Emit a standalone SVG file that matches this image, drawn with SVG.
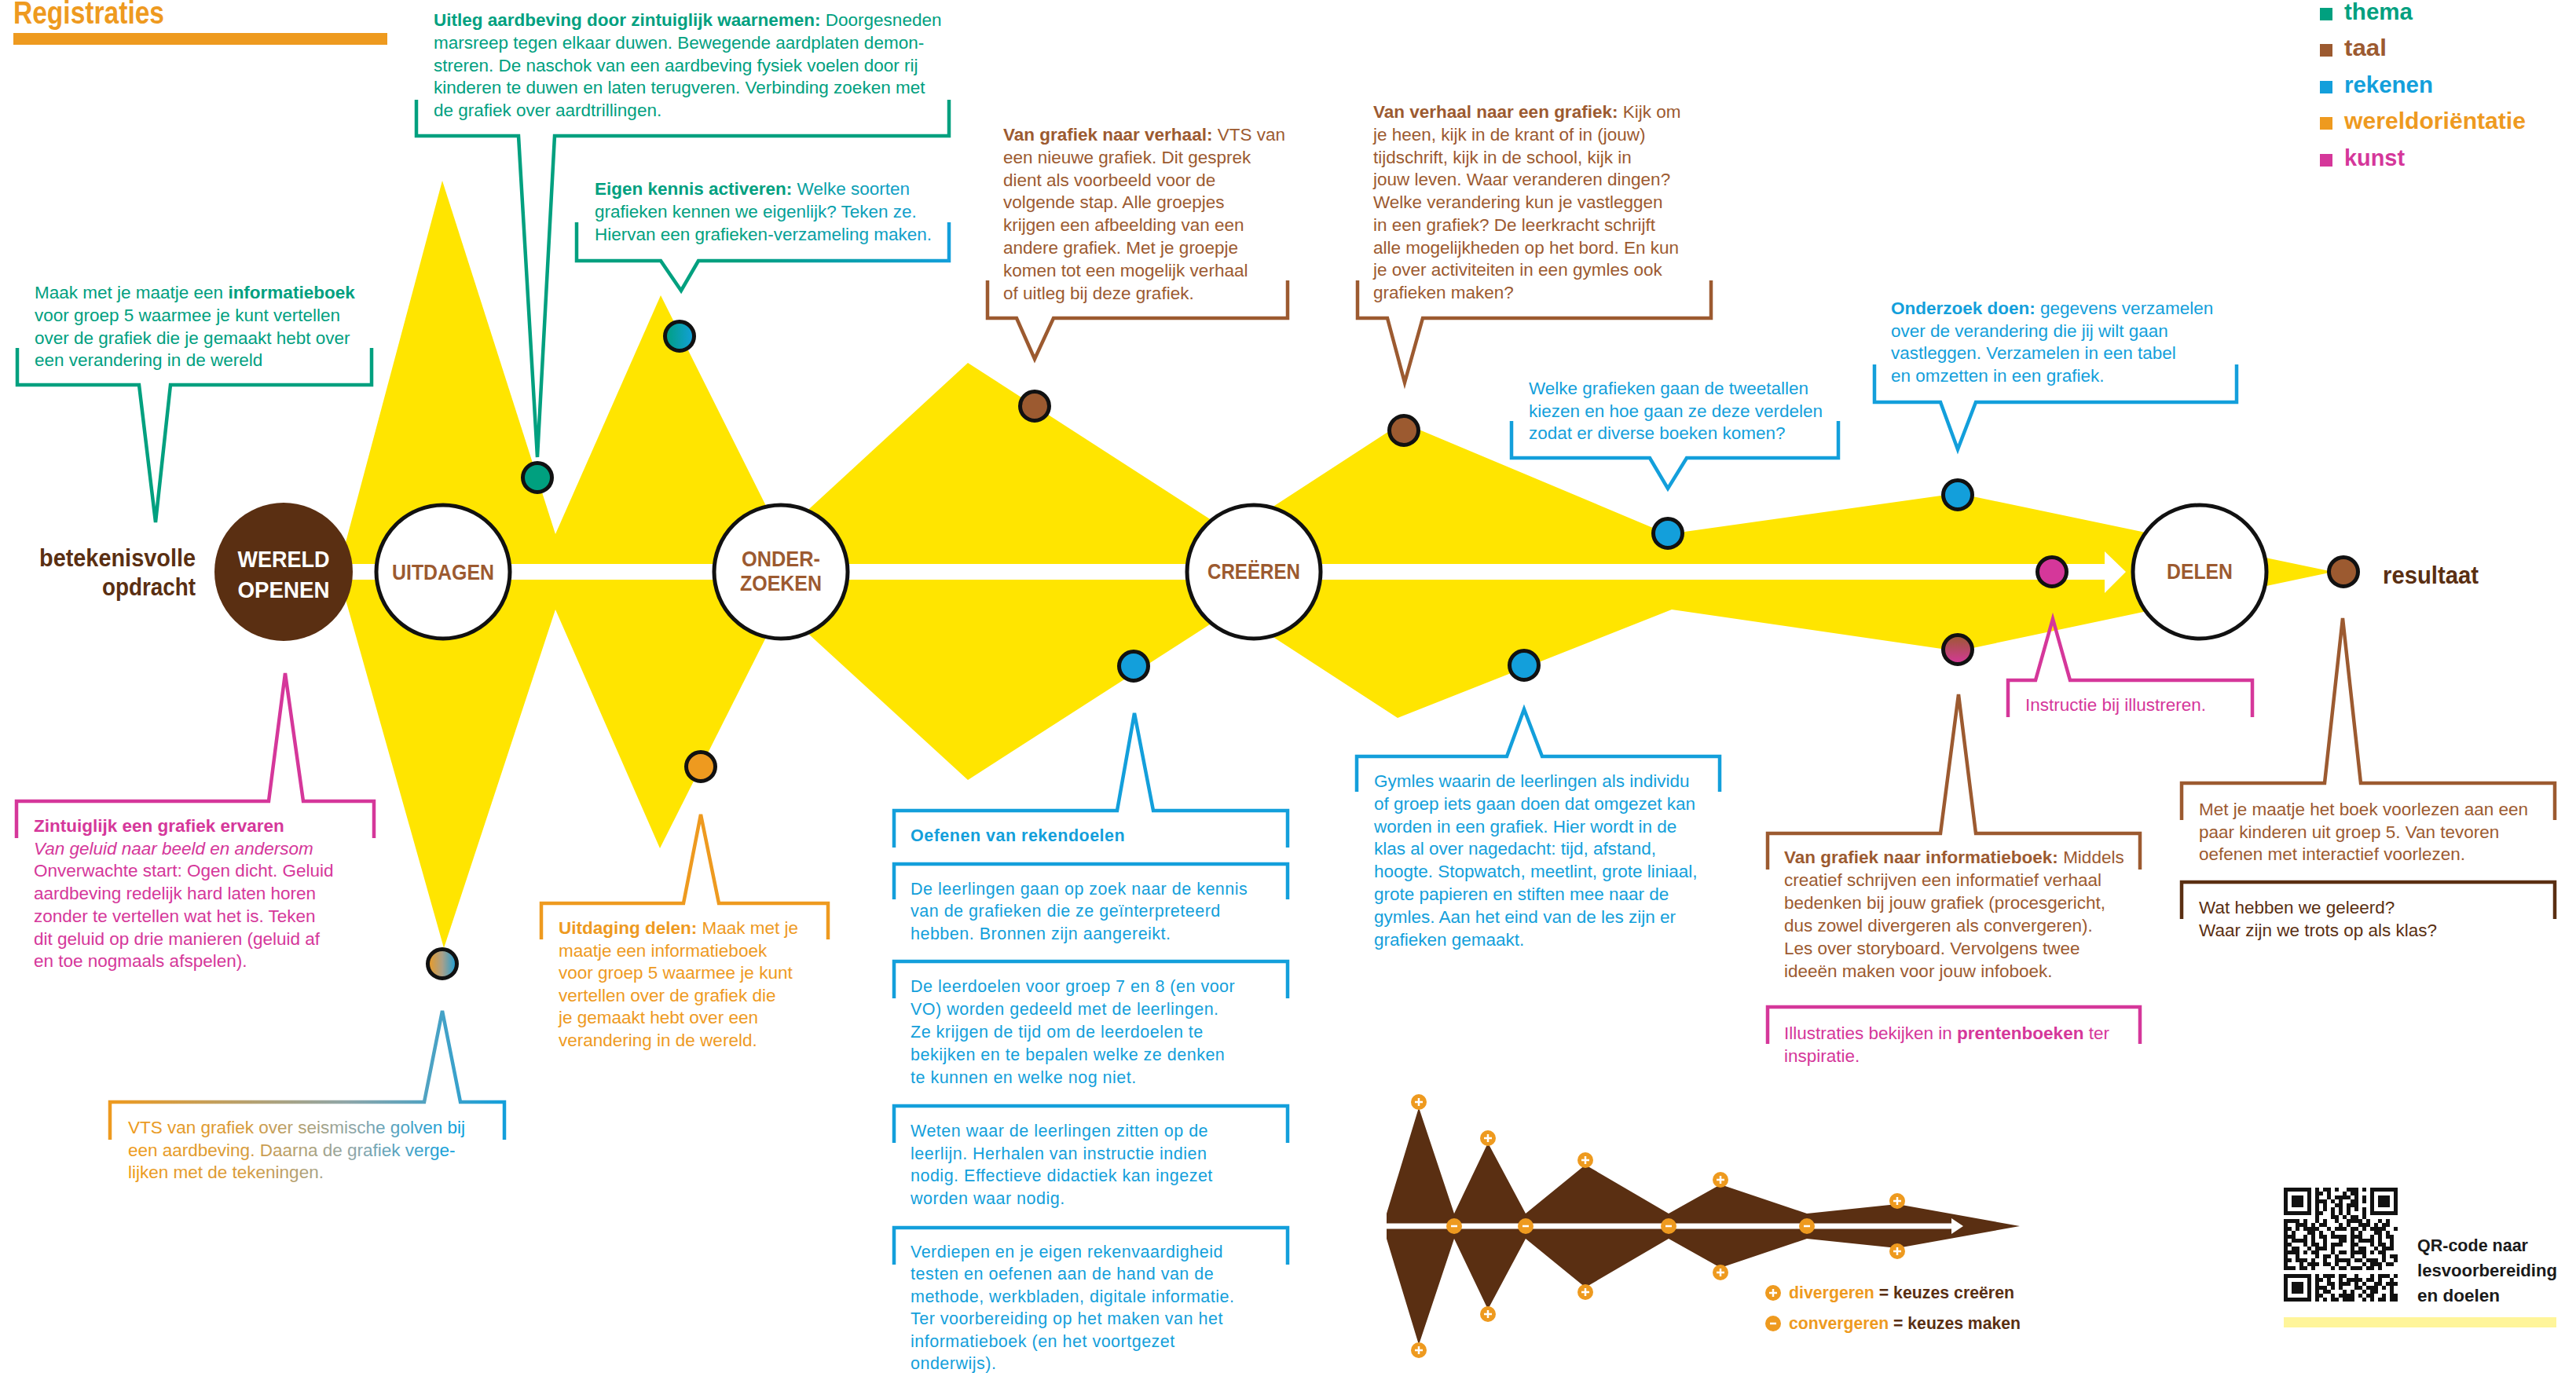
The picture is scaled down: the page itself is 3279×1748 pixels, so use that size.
<svg xmlns="http://www.w3.org/2000/svg" width="3279" height="1748" viewBox="0 0 3279 1748">
<defs>
<style>
text { font-family: 'Liberation Sans', Arial, sans-serif; }
.t { font-size: 22.5px; }
.r { font-size: 21.5px; letter-spacing: 0.5px; }
.b { font-weight: bold; }
.i { font-style: italic; }
.teal { fill: #00A07F; }
.brown { fill: #9C5A30; }
.blue { fill: #139FDB; }
.orange { fill: #EE9A1F; }
.mag { fill: #D5379A; }
.dark { fill: #5A2F12; }
.br { fill: none; stroke-width: 4.5; }
.sTeal { stroke: #00A07F; }
.sBrown { stroke: #9C5A30; }
.sBlue { stroke: #139FDB; }
.sOrange { stroke: #EE9A1F; }
.sMag { stroke: #D5379A; }
.sDark { stroke: #5A2F12; }
.yel { fill: #FFE500; }
.node { fill: #fff; stroke: #111; stroke-width: 5; }
.lbl { font-weight: bold; fill: #9C5A30; text-anchor: middle; font-size: 28px; }
.dot { stroke: #111; stroke-width: 5; }
.pm { fill: #EE9A1F; }
.pmx { stroke: #fff; stroke-width: 2.5; fill: none; }
.qr path { fill: none; stroke: #111; stroke-width: 5; }
</style>
<linearGradient id="gTealBlueTxt" gradientUnits="userSpaceOnUse" x1="757" y1="0" x2="1200" y2="0">
<stop offset="0" stop-color="#00A07F"/><stop offset="0.4" stop-color="#00A07F"/><stop offset="1" stop-color="#139FDB"/>
</linearGradient>
<linearGradient id="gTealBlueBr" gradientUnits="userSpaceOnUse" x1="734" y1="0" x2="1208" y2="0">
<stop offset="0" stop-color="#00A07F"/><stop offset="0.45" stop-color="#00A07F"/><stop offset="1" stop-color="#139FDB"/>
</linearGradient>
<linearGradient id="gOrBlueTxt" gradientUnits="userSpaceOnUse" x1="163" y1="0" x2="575" y2="0">
<stop offset="0" stop-color="#EE9A1F"/><stop offset="0.35" stop-color="#D89A3A"/><stop offset="0.7" stop-color="#8FA6A8"/><stop offset="1" stop-color="#139FDB"/>
</linearGradient>
<linearGradient id="gOrBlueBr" gradientUnits="userSpaceOnUse" x1="140" y1="0" x2="642" y2="0">
<stop offset="0" stop-color="#EE9A1F"/><stop offset="0.6" stop-color="#8FA6A8"/><stop offset="1" stop-color="#139FDB"/>
</linearGradient>
<linearGradient id="gDotTB" x1="0" y1="0" x2="1" y2="0">
<stop offset="0" stop-color="#00A07F"/><stop offset="1" stop-color="#139FDB"/>
</linearGradient>
<linearGradient id="gDotOB" x1="0" y1="0" x2="1" y2="0">
<stop offset="0" stop-color="#EE9A1F"/><stop offset="0.5" stop-color="#A9A08A"/><stop offset="1" stop-color="#139FDB"/>
</linearGradient>
<linearGradient id="gDotBM" x1="0" y1="0" x2="0" y2="1">
<stop offset="0" stop-color="#9C5A30"/><stop offset="1" stop-color="#D5379A"/>
</linearGradient>
</defs>

<rect width="3279" height="1748" fill="#fff"/>

<!-- heading -->
<g id="heading">
<text x="17" y="30" class="b orange" font-size="40" textLength="192" lengthAdjust="spacingAndGlyphs">Registraties</text>
<rect x="17" y="42" width="476" height="15" fill="#EE9A1F"/>
</g>

<!-- subject legend -->
<g id="legend" class="b" font-size="30">
<rect x="2953" y="10" width="16" height="16" fill="#00A07F"/>
<text x="2984" y="25" class="teal" textLength="87" lengthAdjust="spacingAndGlyphs">thema</text>
<rect x="2953" y="56" width="16" height="16" fill="#9C5A30"/>
<text x="2984" y="71" class="brown" textLength="54" lengthAdjust="spacingAndGlyphs">taal</text>
<rect x="2953" y="103" width="16" height="16" fill="#139FDB"/>
<text x="2984" y="118" class="blue" textLength="113" lengthAdjust="spacingAndGlyphs">rekenen</text>
<rect x="2953" y="149" width="16" height="16" fill="#EE9A1F"/>
<text x="2984" y="164" class="orange" textLength="231" lengthAdjust="spacingAndGlyphs">wereldoriëntatie</text>
<rect x="2953" y="196" width="16" height="16" fill="#D5379A"/>
<text x="2984" y="211" class="mag" textLength="77" lengthAdjust="spacingAndGlyphs">kunst</text>
</g>

<!-- yellow divergence / convergence flow -->
<g id="flow" class="yel">
<polygon points="430,728 563,230 707,680 707,776 565,1207"/>
<polygon points="707,680 841,376 1017,728 840,1080 707,776"/>
<polygon points="943,728 1232,462 1644,728 1232,993"/>
<polygon points="1493,728 1785,538 2123,680 2492,628 2970,728 2492,829 2128,776 1779,914"/>
</g>

<!-- main axis -->
<g id="connectors">
<rect x="440" y="718" width="2241" height="20" fill="#fff"/>
<polygon points="2679,702 2706,728 2679,755" fill="#fff"/>
</g>

<!-- phase nodes -->
<g id="node-wereld-openen">
<circle cx="361" cy="728" r="88" fill="#5A2F12"/>
<text x="361" y="722" class="b" fill="#fff" font-size="30" text-anchor="middle" textLength="117" lengthAdjust="spacingAndGlyphs">WERELD</text>
<text x="361" y="761" class="b" fill="#fff" font-size="30" text-anchor="middle" textLength="117" lengthAdjust="spacingAndGlyphs">OPENEN</text>
</g>
<g id="node-uitdagen">
<circle cx="564" cy="728" r="85" class="node"/>
<text x="564" y="738" class="lbl" textLength="130" lengthAdjust="spacingAndGlyphs">UITDAGEN</text>
</g>
<g id="node-onderzoeken">
<circle cx="994" cy="728" r="85" class="node"/>
<text x="994" y="721" class="lbl" textLength="100" lengthAdjust="spacingAndGlyphs">ONDER-</text>
<text x="994" y="752" class="lbl" textLength="104" lengthAdjust="spacingAndGlyphs">ZOEKEN</text>
</g>
<g id="node-creeren">
<circle cx="1596" cy="728" r="85" class="node"/>
<text x="1596" y="737" class="lbl" textLength="118" lengthAdjust="spacingAndGlyphs">CREËREN</text>
</g>
<g id="node-delen">
<circle cx="2800" cy="728" r="85" class="node"/>
<text x="2800" y="737" class="lbl" textLength="84" lengthAdjust="spacingAndGlyphs">DELEN</text>
</g>

<g id="start-label" class="b dark" font-size="31" text-anchor="end">
<text x="249" y="721" textLength="199" lengthAdjust="spacingAndGlyphs">betekenisvolle</text>
<text x="249" y="758" textLength="119" lengthAdjust="spacingAndGlyphs">opdracht</text>
</g>
<g id="end-label">
<circle cx="2983" cy="728" r="18.5" fill="#9C5A30" class="dot"/>
<text x="3033" y="743" class="b dark" font-size="31" textLength="122" lengthAdjust="spacingAndGlyphs">resultaat</text>
</g>

<!-- activity markers -->
<g id="markers">
<circle cx="684" cy="608" r="18.5" fill="#00A07F" class="dot"/>
<circle cx="865" cy="428" r="18.5" fill="url(#gDotTB)" class="dot"/>
<circle cx="892" cy="976" r="18.5" fill="#EE9A1F" class="dot"/>
<circle cx="563" cy="1227" r="18.5" fill="url(#gDotOB)" class="dot"/>
<circle cx="1317" cy="517" r="18.5" fill="#9C5A30" class="dot"/>
<circle cx="1443" cy="848" r="18.5" fill="#139FDB" class="dot"/>
<circle cx="1787" cy="548" r="18.5" fill="#9C5A30" class="dot"/>
<circle cx="1940" cy="847" r="18.5" fill="#139FDB" class="dot"/>
<circle cx="2123" cy="679" r="18.5" fill="#139FDB" class="dot"/>
<circle cx="2492" cy="630" r="18.5" fill="#139FDB" class="dot"/>
<circle cx="2492" cy="827" r="18.5" fill="url(#gDotBM)" class="dot"/>
<circle cx="2612" cy="728" r="18.5" fill="#D5379A" class="dot"/>
</g>

<!-- callouts -->
<g id="callout-uitleg-aardbeving">
<path class="br sTeal" d="M530 127V173H660L684 582L706 173H1208V127"/>
<text class="t teal" x="552" y="33"><tspan class="b">Uitleg aardbeving door zintuiglijk waarnemen:</tspan> Doorgesneden<tspan x="552" dy="28.8">marsreep tegen elkaar duwen. Bewegende aardplaten demon-</tspan><tspan x="552" dy="28.8">streren. De naschok van een aardbeving fysiek voelen door rij</tspan><tspan x="552" dy="28.8">kinderen te duwen en laten terugveren. Verbinding zoeken met</tspan><tspan x="552" dy="28.8">de grafiek over aardtrillingen.</tspan></text>
</g>

<g id="callout-eigen-kennis">
<path class="br" stroke="url(#gTealBlueBr)" d="M734 283V332H841L867 370L889 332H1208V283"/>
<text class="t" fill="url(#gTealBlueTxt)" x="757" y="248"><tspan class="b" fill="#00A07F">Eigen kennis activeren:</tspan> Welke soorten<tspan x="757" dy="28.8">grafieken kennen we eigenlijk? Teken ze.</tspan><tspan x="757" dy="28.8">Hiervan een grafieken-verzameling maken.</tspan></text>
</g>

<g id="callout-informatieboek">
<path class="br sTeal" d="M22 443V490H177L198 665L217 490H473V443"/>
<text class="t teal" x="44" y="380">Maak met je maatje een <tspan class="b">informatieboek</tspan><tspan x="44" dy="28.8">voor groep 5 waarmee je kunt vertellen</tspan><tspan x="44" dy="28.8">over de grafiek die je gemaakt hebt over</tspan><tspan x="44" dy="28.8">een verandering in de wereld</tspan></text>
</g>

<g id="callout-grafiek-naar-verhaal">
<path class="br sBrown" d="M1257 357V405H1294L1317 457L1341 405H1639V357"/>
<text class="t brown" x="1277" y="179"><tspan class="b">Van grafiek naar verhaal:</tspan> VTS van<tspan x="1277" dy="28.8">een nieuwe grafiek. Dit gesprek</tspan><tspan x="1277" dy="28.8">dient als voorbeeld voor de</tspan><tspan x="1277" dy="28.8">volgende stap. Alle groepjes</tspan><tspan x="1277" dy="28.8">krijgen een afbeelding van een</tspan><tspan x="1277" dy="28.8">andere grafiek. Met je groepje</tspan><tspan x="1277" dy="28.8">komen tot een mogelijk verhaal</tspan><tspan x="1277" dy="28.8">of uitleg bij deze grafiek.</tspan></text>
</g>

<g id="callout-verhaal-naar-grafiek">
<path class="br sBrown" d="M1728 357V405H1766L1788 487L1811 405H2178V357"/>
<text class="t brown" x="1748" y="150"><tspan class="b">Van verhaal naar een grafiek:</tspan> Kijk om<tspan x="1748" dy="28.75">je heen, kijk in de krant of in (jouw)</tspan><tspan x="1748" dy="28.75">tijdschrift, kijk in de school, kijk in</tspan><tspan x="1748" dy="28.75">jouw leven. Waar veranderen dingen?</tspan><tspan x="1748" dy="28.75">Welke verandering kun je vastleggen</tspan><tspan x="1748" dy="28.75">in een grafiek? De leerkracht schrijft</tspan><tspan x="1748" dy="28.75">alle mogelijkheden op het bord. En kun</tspan><tspan x="1748" dy="28.75">je over activiteiten in een gymles ook</tspan><tspan x="1748" dy="28.75">grafieken maken?</tspan></text>
</g>

<g id="callout-tweetallen">
<path class="br sBlue" d="M1924 536V583H2100L2123 622L2147 583H2340V536"/>
<text class="t blue" x="1946" y="502">Welke grafieken gaan de tweetallen<tspan x="1946" dy="28.6">kiezen en hoe gaan ze deze verdelen</tspan><tspan x="1946" dy="28.6">zodat er diverse boeken komen?</tspan></text>
</g>

<g id="callout-onderzoek-doen">
<path class="br sBlue" d="M2386 464V512H2470L2492 572L2515 512H2847V464"/>
<text class="t blue" x="2407" y="400"><tspan class="b">Onderzoek doen:</tspan> gegevens verzamelen<tspan x="2407" dy="28.7">over de verandering die jij wilt gaan</tspan><tspan x="2407" dy="28.7">vastleggen. Verzamelen in een tabel</tspan><tspan x="2407" dy="28.7">en omzetten in een grafiek.</tspan></text>
</g>

<g id="callout-zintuiglijk">
<path class="br sMag" d="M21 1067V1020H342L363 857L386 1020H476V1067"/>
<text class="t mag" x="43" y="1059"><tspan class="b">Zintuiglijk een grafiek ervaren</tspan><tspan x="43" dy="28.7" class="i">Van geluid naar beeld en andersom</tspan><tspan x="43" dy="28.7">Onverwachte start: Ogen dicht. Geluid</tspan><tspan x="43" dy="28.7">aardbeving redelijk hard laten horen</tspan><tspan x="43" dy="28.7">zonder te vertellen wat het is. Teken</tspan><tspan x="43" dy="28.7">dit geluid op drie manieren (geluid af</tspan><tspan x="43" dy="28.7">en toe nogmaals afspelen).</tspan></text>
</g>

<g id="callout-uitdaging-delen">
<path class="br sOrange" d="M689 1196V1150H870L892 1037L915 1150H1054V1196"/>
<text class="t orange" x="711" y="1189"><tspan class="b">Uitdaging delen:</tspan> Maak met je<tspan x="711" dy="28.6">maatje een informatieboek</tspan><tspan x="711" dy="28.6">voor groep 5 waarmee je kunt</tspan><tspan x="711" dy="28.6">vertellen over de grafiek die</tspan><tspan x="711" dy="28.6">je gemaakt hebt over een</tspan><tspan x="711" dy="28.6">verandering in de wereld.</tspan></text>
</g>

<g id="callout-vts-seismisch">
<path class="br" stroke="url(#gOrBlueBr)" d="M140 1451V1403H540L563 1287L586 1403H642V1451"/>
<text class="t" fill="url(#gOrBlueTxt)" x="163" y="1443">VTS van grafiek over seismische golven bij<tspan x="163" dy="28.6">een aardbeving. Daarna de grafiek verge-</tspan><tspan x="163" dy="28.6">lijken met de tekeningen.</tspan></text>
</g>

<g id="callout-rekendoelen">
<path class="br sBlue" d="M1138 1079V1032H1422L1444 908L1468 1032H1639V1079"/>
<text class="r b blue" x="1159" y="1071">Oefenen van rekendoelen</text>
<path class="br sBlue" d="M1138 1145V1100H1639V1145"/>
<text class="r blue" x="1159" y="1139">De leerlingen gaan op zoek naar de kennis<tspan x="1159" dy="28.3">van de grafieken die ze geïnterpreteerd</tspan><tspan x="1159" dy="28.3">hebben. Bronnen zijn aangereikt.</tspan></text>
<path class="br sBlue" d="M1138 1271V1224H1639V1271"/>
<text class="r blue" x="1159" y="1263">De leerdoelen voor groep 7 en 8 (en voor<tspan x="1159" dy="29">VO) worden gedeeld met de leerlingen.</tspan><tspan x="1159" dy="29">Ze krijgen de tijd om de leerdoelen te</tspan><tspan x="1159" dy="29">bekijken en te bepalen welke ze denken</tspan><tspan x="1159" dy="29">te kunnen en welke nog niet.</tspan></text>
<path class="br sBlue" d="M1138 1455V1408H1639V1455"/>
<text class="r blue" x="1159" y="1447">Weten waar de leerlingen zitten op de<tspan x="1159" dy="28.7">leerlijn. Herhalen van instructie indien</tspan><tspan x="1159" dy="28.7">nodig. Effectieve didactiek kan ingezet</tspan><tspan x="1159" dy="28.7">worden waar nodig.</tspan></text>
<path class="br sBlue" d="M1138 1610V1563H1639V1610"/>
<text class="r blue" x="1159" y="1601">Verdiepen en je eigen rekenvaardigheid<tspan x="1159" dy="28.4">testen en oefenen aan de hand van  de</tspan><tspan x="1159" dy="28.4">methode, werkbladen, digitale informatie.</tspan><tspan x="1159" dy="28.4">Ter voorbereiding op het maken van het</tspan><tspan x="1159" dy="28.4">informatieboek (en het voortgezet</tspan><tspan x="1159" dy="28.4">onderwijs).</tspan></text>
</g>

<g id="callout-gymles">
<path class="br sBlue" d="M1727 1008V963H1918L1940 903L1963 963H2189V1008"/>
<text class="t blue" x="1749" y="1002">Gymles waarin de leerlingen als individu<tspan x="1749" dy="28.8">of groep iets gaan doen dat omgezet kan</tspan><tspan x="1749" dy="28.8">worden in een grafiek. Hier wordt in de</tspan><tspan x="1749" dy="28.8">klas al over nagedacht: tijd, afstand,</tspan><tspan x="1749" dy="28.8">hoogte. Stopwatch, meetlint, grote liniaal,</tspan><tspan x="1749" dy="28.8">grote papieren en stiften mee naar de</tspan><tspan x="1749" dy="28.8">gymles. Aan het eind van de les zijn er</tspan><tspan x="1749" dy="28.8">grafieken gemaakt.</tspan></text>
</g>

<g id="callout-grafiek-naar-infoboek">
<path class="br sBrown" d="M2250 1107V1061H2470L2493 884L2515 1061H2724V1107"/>
<text class="t brown" x="2271" y="1099"><tspan class="b">Van grafiek naar informatieboek:</tspan> Middels<tspan x="2271" dy="29">creatief schrijven een informatief verhaal</tspan><tspan x="2271" dy="29">bedenken bij jouw grafiek (procesgericht,</tspan><tspan x="2271" dy="29">dus zowel divergeren als convergeren).</tspan><tspan x="2271" dy="29">Les over storyboard. Vervolgens twee</tspan><tspan x="2271" dy="29">ideeën maken voor jouw infoboek.</tspan></text>
</g>

<g id="callout-prentenboeken">
<path class="br sMag" d="M2250 1329V1282H2724V1329"/>
<text class="t mag" x="2271" y="1323">Illustraties bekijken in <tspan class="b">prentenboeken</tspan> ter<tspan x="2271" dy="29">inspiratie.</tspan></text>
</g>

<g id="callout-illustreren">
<path class="br sMag" d="M2556 913V866H2591L2613 788L2635 866H2867V913"/>
<text class="t mag" x="2578" y="905">Instructie bij illustreren.</text>
</g>

<g id="callout-voorlezen">
<path class="br sBrown" d="M2777 1044V997H2959L2982 787L3005 997H3252V1044"/>
<text class="t brown" x="2799" y="1038">Met je maatje het boek voorlezen aan een<tspan x="2799" dy="28.7">paar kinderen uit groep 5. Van tevoren</tspan><tspan x="2799" dy="28.7">oefenen met interactief voorlezen.</tspan></text>
</g>

<g id="callout-reflectie">
<path class="br sDark" d="M2777 1170V1123H3252V1170"/>
<text class="t dark" x="2799" y="1163">Wat hebben we geleerd?<tspan x="2799" dy="29">Waar zijn we trots op als klas?</tspan></text>
</g>

<!-- small divergence / convergence diagram -->
<g id="mini-diagram">
<polygon fill="#5A2F12" points="1765,1545 1806,1410 1851,1545 1894,1455 1942,1545 2018,1483 2124,1545 2190,1508 2300,1545 2415,1533 2571,1561 2415,1589 2300,1577 2190,1614 2124,1577 2018,1639 1942,1577 1894,1667 1851,1577 1806,1712 1765,1577"/>
<rect x="1765" y="1557.5" width="721" height="7" fill="#fff"/>
<polygon points="2484,1551 2499,1561 2484,1571" fill="#fff"/>
<g id="plus-marks">
<circle cx="1806" cy="1403" r="10" class="pm"/><path class="pmx" d="M1801 1403h10M1806 1398v10"/>
<circle cx="1894" cy="1449" r="10" class="pm"/><path class="pmx" d="M1889 1449h10M1894 1444v10"/>
<circle cx="2018" cy="1477" r="10" class="pm"/><path class="pmx" d="M2013 1477h10M2018 1472v10"/>
<circle cx="2190" cy="1502" r="10" class="pm"/><path class="pmx" d="M2185 1502h10M2190 1497v10"/>
<circle cx="2415" cy="1529" r="10" class="pm"/><path class="pmx" d="M2410 1529h10M2415 1524v10"/>
<circle cx="1806" cy="1719" r="10" class="pm"/><path class="pmx" d="M1801 1719h10M1806 1714v10"/>
<circle cx="1894" cy="1673" r="10" class="pm"/><path class="pmx" d="M1889 1673h10M1894 1668v10"/>
<circle cx="2018" cy="1645" r="10" class="pm"/><path class="pmx" d="M2013 1645h10M2018 1640v10"/>
<circle cx="2190" cy="1620" r="10" class="pm"/><path class="pmx" d="M2185 1620h10M2190 1615v10"/>
<circle cx="2415" cy="1593" r="10" class="pm"/><path class="pmx" d="M2410 1593h10M2415 1588v10"/>
</g>
<g id="minus-marks">
<circle cx="1851" cy="1561" r="10" class="pm"/><path class="pmx" d="M1847 1561h8"/>
<circle cx="1942" cy="1561" r="10" class="pm"/><path class="pmx" d="M1938 1561h8"/>
<circle cx="2124" cy="1561" r="10" class="pm"/><path class="pmx" d="M2120 1561h8"/>
<circle cx="2300" cy="1561" r="10" class="pm"/><path class="pmx" d="M2296 1561h8"/>
</g>
<g id="mini-legend" class="b" font-size="22">
<circle cx="2257" cy="1646" r="10" class="pm"/><path class="pmx" d="M2252 1646h10M2257 1641v10"/>
<text x="2277" y="1653" textLength="287" lengthAdjust="spacingAndGlyphs"><tspan class="orange">divergeren</tspan><tspan class="dark"> = keuzes creëren</tspan></text>
<circle cx="2257" cy="1685" r="10" class="pm"/><path class="pmx" d="M2253 1685h8"/>
<text x="2277" y="1692" textLength="295" lengthAdjust="spacingAndGlyphs"><tspan class="orange">convergeren</tspan><tspan class="dark"> = keuzes maken</tspan></text>
</g>
</g>

<!-- QR block -->
<g id="qr" class="qr">
<path d="M2947 1514.5h65" stroke-dasharray="5 5 10 5 5 10 15 5"/>
<path d="M2947 1519.5h65" stroke-dasharray="10 5 5 15 5 5 10 10"/>
<path d="M2947 1524.5h65" stroke-dasharray="5 10 5 5 20 5 5 5"/>
<path d="M2947 1529.5h65" stroke-dasharray="15 5 5 5 5 10 10 5"/>
<path d="M2947 1534.5h65" stroke-dasharray="5 5 5 10 10 5 15 10"/>
<path d="M2947 1539.5h65" stroke-dasharray="5 5"/>
<path d="M2947 1544.5h65" stroke-dasharray="10 10 5 5 5 5 5 15"/>
<path d="M2947 1549.5h65" stroke-dasharray="5 15 10 5 5 5 10 5"/>
<path d="M2907 1554.5h145" stroke-dasharray="20 5 5 10 5 5 5 10 5 10"/>
<path d="M2907 1559.5h145" stroke-dasharray="5 10 15 5 5 5 10 15 5 5"/>
<path d="M2907 1564.5h145" stroke-dasharray="10 5 5 5 20 10 5 5 15 5"/>
<path d="M2907 1569.5h145" stroke-dasharray="5 5 5 15 10 5 5 10 5 20"/>
<path d="M2907 1574.5h145" stroke-dasharray="15 10 5 5 5 5 10 5 20 5"/>
<path d="M2907 1579.5h145" stroke-dasharray="5 5 20 5 5 10 5 15 10 5"/>
<path d="M2907 1584.5h145" stroke-dasharray="10 15 5 5 10 5 5 5 15 10"/>
<path d="M2907 1589.5h145" stroke-dasharray="5 5 10 10 5 5 15 5 5 20"/>
<path d="M2907 1594.5h145" stroke-dasharray="20 5 5 5 10 15 5 5 10 5"/>
<path d="M2907 1599.5h145" stroke-dasharray="5 10 5 20 5 5 10 5 5 15"/>
<path d="M2907 1604.5h145" stroke-dasharray="10 5 15 5 5 10 5 10 20 5"/>
<path d="M2907 1609.5h145" stroke-dasharray="5 15 5 5 15 5 10 5 5 10"/>
<path d="M2907 1614.5h145" stroke-dasharray="15 5 10 5 5 20 5 5 10 5"/>
<path d="M2947 1624.5h105" stroke-dasharray="5 5 15 5 10 10 5 15"/>
<path d="M2947 1629.5h105" stroke-dasharray="10 5 5 10 5 5 20 5"/>
<path d="M2947 1634.5h105" stroke-dasharray="5 10 10 5 15 5 5 5"/>
<path d="M2947 1639.5h105" stroke-dasharray="15 5 5 5 5 15 10 5"/>
<path d="M2947 1644.5h105" stroke-dasharray="5 5 10 15 5 5 5 10"/>
<path d="M2947 1649.5h105" stroke-dasharray="10 10 5 5 20 5 5 5"/>
<path d="M2947 1654.5h105" stroke-dasharray="5 5 5 5 10 5 15 10"/>
<g fill="#111">
<rect x="2907" y="1512" width="35" height="35"/>
<rect x="3017" y="1512" width="35" height="35"/>
<rect x="2907" y="1622" width="35" height="35"/>
</g>
<g fill="#fff">
<rect x="2912" y="1517" width="25" height="25"/>
<rect x="3022" y="1517" width="25" height="25"/>
<rect x="2912" y="1627" width="25" height="25"/>
</g>
<g fill="#111">
<rect x="2917" y="1522" width="15" height="15"/>
<rect x="3027" y="1522" width="15" height="15"/>
<rect x="2917" y="1632" width="15" height="15"/>
</g>
</g>
<g id="qr-caption" class="b" font-size="22" fill="#1a1a1a">
<text x="3077" y="1593" textLength="141" lengthAdjust="spacingAndGlyphs">QR-code naar</text>
<text x="3077" y="1625" textLength="178" lengthAdjust="spacingAndGlyphs">lesvoorbereiding</text>
<text x="3077" y="1657" textLength="105" lengthAdjust="spacingAndGlyphs">en doelen</text>
<rect x="2907" y="1677" width="347" height="13" fill="#FFF59A"/>
</g>
</svg>
